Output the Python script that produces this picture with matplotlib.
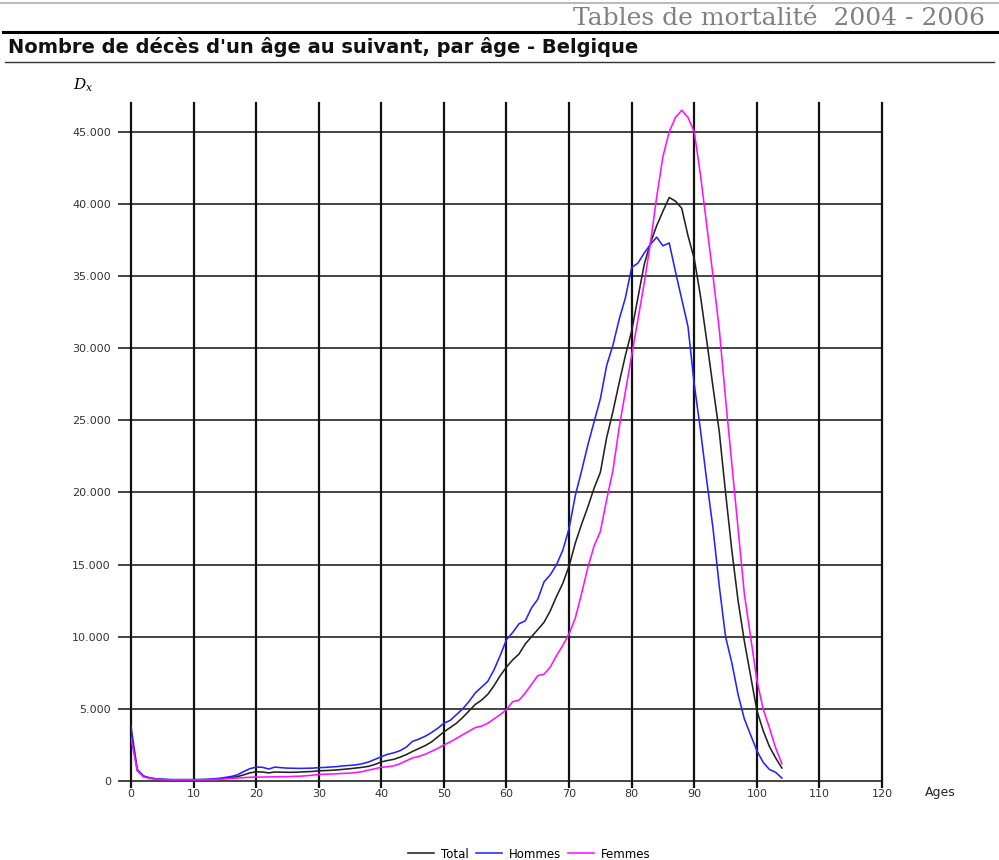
import numpy as np
import matplotlib
matplotlib.use("Agg")
import matplotlib.pyplot as plt
from matplotlib.ticker import FuncFormatter, MultipleLocator
from matplotlib.lines import Line2D

# Ages 0..104
ages = np.arange(0, 105)

# Total
total = [3400, 750, 320, 200, 140, 110, 90, 90, 90, 90,
         90, 90, 95, 110, 140, 190, 240, 300, 420, 560,
         640, 620, 560, 620, 610, 600, 600, 620, 640, 660,
         700, 720, 740, 770, 810, 850, 900, 950, 1020, 1150,
         1320, 1420, 1500, 1650, 1830, 2050, 2250, 2450, 2700, 3050,
         3400, 3700, 4000, 4400, 4850, 5300, 5600, 6000, 6600, 7300,
         7900, 8400, 8800, 9500, 10000, 10500, 11000, 11800, 12800, 13700,
         14900, 16500, 17800, 19000, 20300, 21400, 23800, 25600, 27600, 29500,
         31200, 33500, 35800, 37300, 38500, 39500, 40450, 40200, 39700, 37800,
         36200, 33600, 30500, 27300, 24200, 20000, 16000, 12500, 9700, 7300,
         4900, 3500, 2400, 1600, 900]

# Hommes
hommes = [3800, 800, 350, 220, 150, 120, 100, 90, 90, 90,
          90, 100, 110, 140, 180, 240, 310, 420, 650, 850,
          960, 950, 830, 960, 920, 890, 880, 870, 880, 890,
          920, 940, 970, 1000, 1050, 1080, 1120, 1200, 1320, 1500,
          1680, 1850, 1950, 2100, 2350, 2750, 2900, 3100, 3350, 3650,
          4000, 4200, 4600, 5000, 5500, 6100, 6500, 6900, 7700, 8700,
          9800, 10300, 10900, 11100, 12000, 12600, 13800, 14300, 15000, 16000,
          17500, 19800, 21500, 23300, 24900, 26500, 28800, 30200, 32000, 33500,
          35600, 35900, 36600, 37200, 37700, 37100, 37300, 35300, 33400, 31500,
          27500, 24300, 20800, 17500, 13500, 10000, 8200, 6000, 4300, 3200,
          2100, 1300, 800, 600, 200]

# Femmes
femmes = [3000, 700, 280, 180, 120, 100, 80, 80, 80, 80,
          80, 80, 80, 90, 110, 140, 170, 200, 230, 260,
          270, 270, 280, 290, 300, 300, 320, 330, 360, 400,
          450, 470, 480, 500, 530, 540, 590, 650, 760, 850,
          950, 980, 1050, 1200, 1400, 1600, 1700, 1850, 2050, 2250,
          2500, 2700, 2950, 3200, 3450, 3700, 3800, 4000, 4300, 4600,
          4950, 5500, 5600, 6100, 6700, 7300, 7400, 7900, 8700, 9400,
          10200, 11300, 13000, 14800, 16300, 17300, 19500, 21500, 24500, 27000,
          29500, 32000, 34500, 37300, 40500, 43300, 45000, 46000, 46500, 46000,
          45000, 42000, 38500, 35000, 31300, 26500, 22000, 17500, 13000, 10000,
          7000, 5000, 3700, 2300, 1200]

series_names = ["Total", "Hommes", "Femmes"]
series_colors = ["#222222", "#2323ff", "#ff10ff"]

fig = plt.figure(figsize=(9.99, 8.6), dpi=100)
ax = fig.add_axes([0.1311, 0.0919, 0.7518, 0.7883])

for vals, name, col in zip([total, hommes, femmes], series_names, series_colors):
    ax.plot(ages, vals, color=col, lw=1.15, label=name)

ax.set_xlim(0, 120)
ax.set_ylim(0, 47000)
ax.xaxis.set_major_locator(MultipleLocator(10))
ax.yaxis.set_major_locator(MultipleLocator(5000))
ax.yaxis.set_major_formatter(FuncFormatter(lambda v, p: "0" if v == 0 else f"{int(v):,}".replace(",", ".")))

ax.xaxis.grid(True, color="#111111", lw=1.6)
ax.yaxis.grid(True, color="#111111", lw=1.1)
ax.set_axisbelow(True)
# grid lines on the edges should not be cut in half
for gl in ax.get_xgridlines() + ax.get_ygridlines():
    gl.set_clip_on(False)
for s in ax.spines.values():
    s.set_visible(False)
ax.tick_params(axis="y", direction="out", length=9.5, width=1.1, color="#111111",
               labelsize=8, labelcolor="#333333", pad=5)
ax.tick_params(axis="x", direction="out", length=5, width=1.6, color="#111111",
               labelsize=8, labelcolor="#333333", pad=1)

# axis labels
fig.text(0.083, 0.901, r"$D_x$", fontsize=11, math_fontfamily="dejavuserif",
         ha="center", va="center")
fig.text(0.926, 0.078, "Ages", fontsize=9, color="#222222", ha="left", va="center")

# header
fig.text(0.986, 0.978, "Tables de mortalité  2004 - 2006", family="DejaVu Serif",
         fontsize=18, color="#808080", ha="right", va="center")
fig.text(0.008, 0.945, "Nombre de décès d'un âge au suivant, par âge - Belgique",
         fontsize=14, fontweight="bold", color="#111111", ha="left", va="center")
fig.add_artist(Line2D([0.003, 1.0], [0.9628, 0.9628], color="black", lw=2.2))
fig.add_artist(Line2D([0.005, 0.995], [0.928, 0.928], color="#333333", lw=1.0))
fig.add_artist(Line2D([0.0, 1.0], [0.996, 0.996], color="#bbbbbb", lw=1.5))

fig.legend(loc="lower center", bbox_to_anchor=(0.53, -0.013), ncol=3, frameon=False,
           fontsize=8.5, handlelength=2.2, columnspacing=0.6, handletextpad=0.6)

fig.savefig("out.png", dpi=100)
